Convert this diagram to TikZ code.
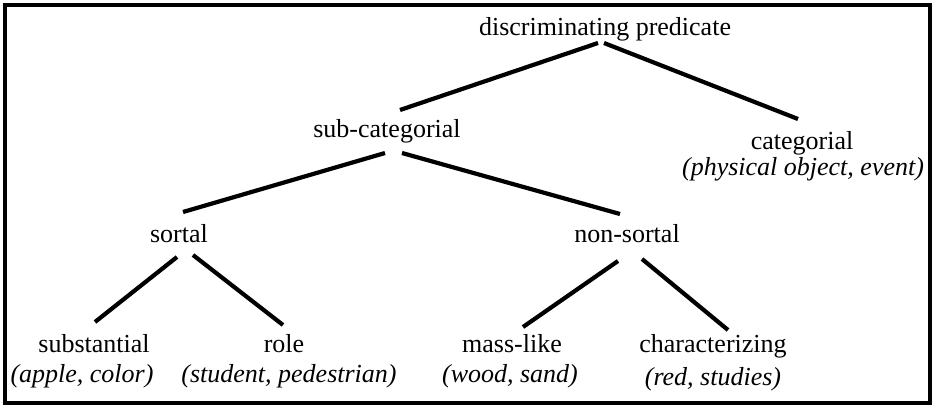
\documentclass[tikz,border=0pt]{standalone}
\usepackage{fontspec}
\setmainfont{Liberation Serif}
\begin{document}
\begin{tikzpicture}[x=1pt,y=-1pt,
  lbl/.style={anchor=base,inner sep=0pt,font=\fontsize{26}{30}\selectfont},
  ex/.style={anchor=base,inner sep=0pt,font=\fontsize{26}{30}\selectfont\itshape},
  edge/.style={line width=4.2pt,line cap=butt}]
\useasboundingbox (0,0) rectangle (933,407);
\draw[line width=3.2pt] (5,5) rectangle (930,403);
% nodes
\node[lbl] (dp) at (605,35) {discriminating predicate};
\node[lbl] (sc) at (387,137) {sub-categorial};
\node[lbl] (cat) at (802,149) {categorial};
\node[ex] (catex) at (803,175) {(physical object, event)};
\node[lbl] (so) at (179,242) {sortal};
\node[lbl] (ns) at (627,242) {non-sortal};
\node[lbl] (sub) at (94,352) {substantial};
\node[ex] (subex) at (82,382) {(apple, color)};
\node[lbl] (role) at (284,352) {role};
\node[ex] (roleex) at (289,382) {(student, pedestrian)};
\node[lbl] (ml) at (512,352) {mass-like};
\node[ex] (mlex) at (510,382) {(wood, sand)};
\node[lbl] (ch) at (713,352) {characterizing};
\node[ex] (chex) at (713,385) {(red, studies)};
% connectors
\draw[edge] ([shift={(-7,8)}]dp.base) -- ([shift={(13,-27)}]sc.base);
\draw[edge] ([shift={(-1,8)}]dp.base) -- ([shift={(-4,-30)}]cat.base);
\draw[edge] ([shift={(-2,16)}]sc.base) -- ([shift={(4,-30)}]so.base);
\draw[edge] ([shift={(15,16)}]sc.base) -- ([shift={(-7,-28)}]ns.base);
\draw[edge] ([shift={(-2,15)}]so.base) -- ([shift={(1,-30)}]sub.base);
\draw[edge] ([shift={(14,13)}]so.base) -- ([shift={(-1,-27)}]role.base);
\draw[edge] ([shift={(-9,19)}]ns.base) -- ([shift={(11,-25)}]ml.base);
\draw[edge] ([shift={(15,17)}]ns.base) -- ([shift={(15,-22)}]ch.base);
\end{tikzpicture}
\end{document}
